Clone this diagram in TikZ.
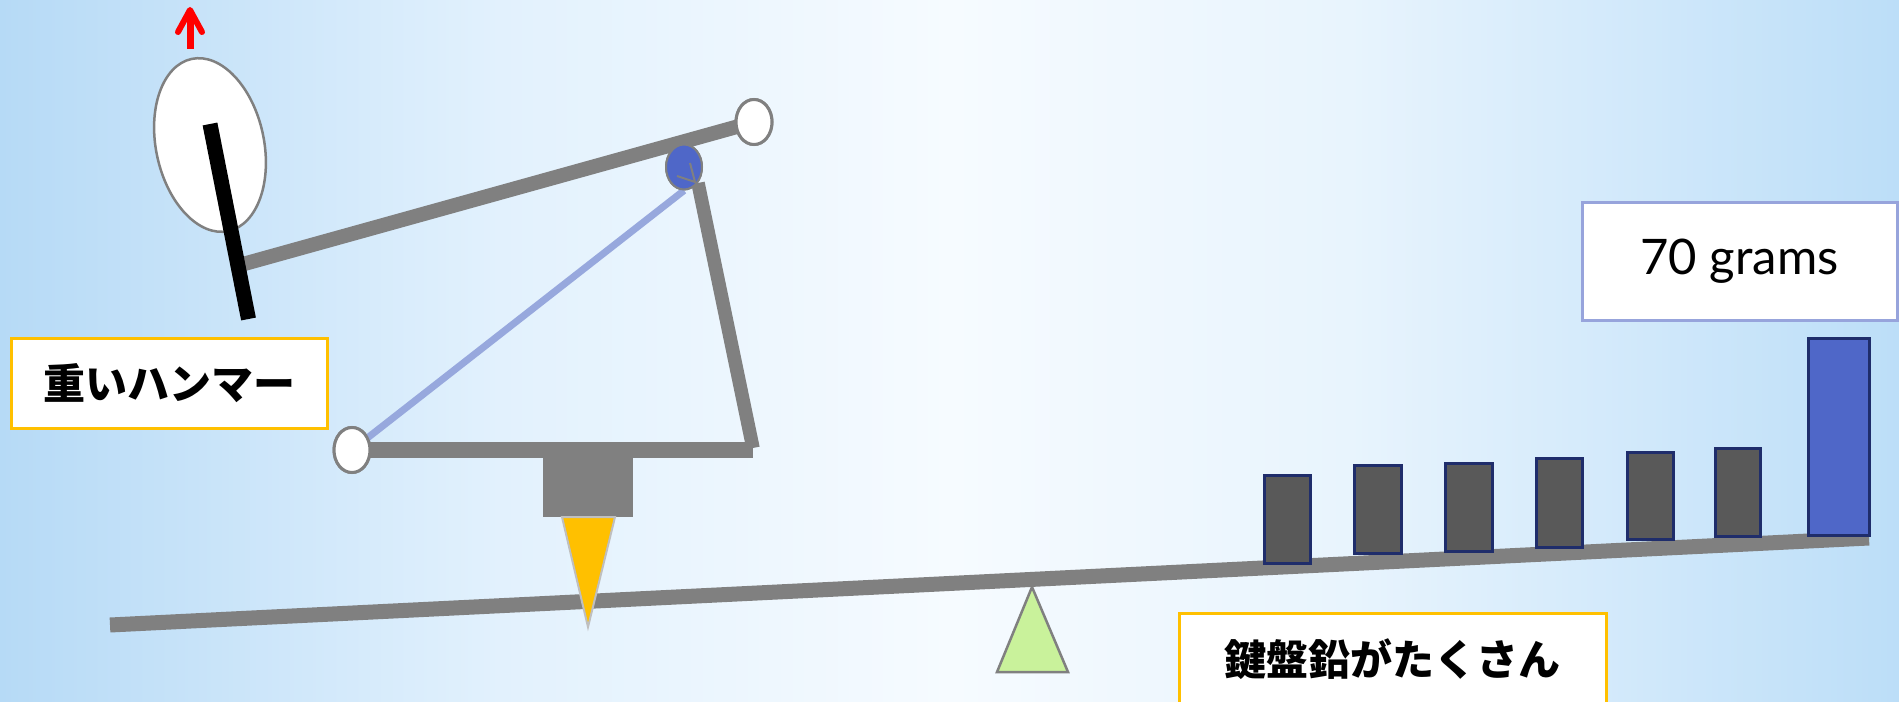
\documentclass[tikz,border=0pt]{standalone}
\usepackage{fontspec}
\usetikzlibrary{shapes.geometric}
\newfontfamily\jpfont{Noto Sans CJK JP}
\newfontfamily\numfont{Lato}

\definecolor{bargray}{RGB}{128,128,128}
\definecolor{amber}{RGB}{255,192,0}
\definecolor{linkblue}{RGB}{151,168,221}
\definecolor{jointblue}{RGB}{79,103,200}
\definecolor{navy}{RGB}{31,45,107}
\definecolor{leadgray}{RGB}{89,89,89}
\definecolor{boxblue}{RGB}{151,164,220}
\definecolor{leafgreen}{RGB}{201,242,155}
\definecolor{tipgray}{RGB}{191,191,191}
\definecolor{skyA}{RGB}{182,218,246}
\definecolor{skyB}{RGB}{226,241,253}
\definecolor{skyC}{RGB}{246,251,255}
\definecolor{skyD}{RGB}{232,244,253}
\definecolor{skyE}{RGB}{188,222,248}

\begin{document}
\begin{tikzpicture}[x=0.5pt,y=-0.5pt,
  bar/.style={draw=bargray, line width=7.25pt},
  joint/.style={ellipse, draw=bargray, line width=1.5pt, fill=white,
    minimum width=18pt, minimum height=22.5pt, inner sep=0pt},
  weight/.style={draw=navy, line width=1.5pt, fill=leadgray},
  jlabel/.style={draw=amber, line width=1.5pt, fill=white, inner sep=0pt,
    font=\jpfont\bfseries\fontsize{21pt}{25pt}\selectfont},
  glabel/.style={draw=boxblue, line width=1.5pt, fill=white, inner sep=0pt,
    font=\numfont\fontsize{24.5pt}{29pt}\selectfont}
]
% sky background
\useasboundingbox (0,0) rectangle (1899,701);
\fill[left color=skyA, right color=skyB] (0,0) rectangle (500,701);
\fill[left color=skyB, right color=skyC] (499,0) rectangle (950,701);
\fill[left color=skyC, right color=skyD] (949,0) rectangle (1350,701);
\fill[left color=skyD, right color=skyE] (1349,0) rectangle (1899,701);

% key lever with its lead weights
\draw[bargray, line width=7.5pt] (110,625) -- (1869,538);
\draw[weight] (1264,475) rectangle (1310,563);
\draw[weight] (1354,465) rectangle (1401,553);
\draw[weight] (1445,463) rectangle (1492,551);
\draw[weight] (1536,458) rectangle (1582,547);
\draw[weight] (1627,452) rectangle (1673,539);
\draw[weight] (1715,448) rectangle (1760,536);
\draw[draw=navy, line width=1.5pt, fill=jointblue] (1808,338) rectangle (1869,535);

% balance point
\draw[bargray, line width=1.25pt, fill=leafgreen, line join=miter]
  (997,672) -- (1068,672) -- (1032,587) -- cycle;

% action frame: capstan block and pointed foot
\fill[bargray] (543,458) rectangle (633,517);
\draw[tipgray, line width=1pt, fill=amber] (562,517) -- (615,517) -- (588,627) -- cycle;

\coordinate (frameR) at (753,450);
\coordinate (postTop) at (698,183);
\coordinate (postBot) at (753,448);
\coordinate (armStart) at (240,265);

\node[joint] (jL) at (352,450) {};
\node[joint] (jR) at (754,122) {};
\node[joint, fill=jointblue, line width=1pt] (jB) at (684,167) {};

\draw[bargray, line width=8.25pt] (jL.center) -- (frameR);
\draw[bar, line width=6.75pt] (postTop) -- (postBot);
\draw[linkblue, line width=3.5pt] (jL.center) -- (jB.south);
\draw[bar] (armStart) -- (jR.center);

% joints on top of the bars
\node[joint] at (jL) {};
\node[joint] at (jR) {};
\node[joint, fill=jointblue, line width=1pt] at (jB) {};
\draw[bargray, line width=1pt] (677,176) -- (695,182) -- (690,163);

% hammer head and shank
\draw[bargray, line width=1.25pt, fill=white, rotate around={12:(210,145)}]
  (210,145) ellipse [x radius=27pt, y radius=44pt];
\draw[black, line width=7.5pt] (210,124) -- (248.5,319);

% lifting direction
\draw[red, line width=3.5pt] (190,49) -- (190,13);
\draw[red, line width=3pt, line cap=round, line join=round]
  (178,32) -- (190,10) -- (202,32);

% labels
\node[jlabel, minimum width=158pt, minimum height=45pt] (hammer) at (169,383) {重いハンマー};
\node[jlabel, minimum width=213.5pt, minimum height=46pt] (leads) at (1392.5,659) {鍵盤鉛がたくさん};
\node[glabel, minimum width=157.5pt, minimum height=59pt] (grams) at (1739.5,261) {70 grams};
\end{tikzpicture}
\end{document}
